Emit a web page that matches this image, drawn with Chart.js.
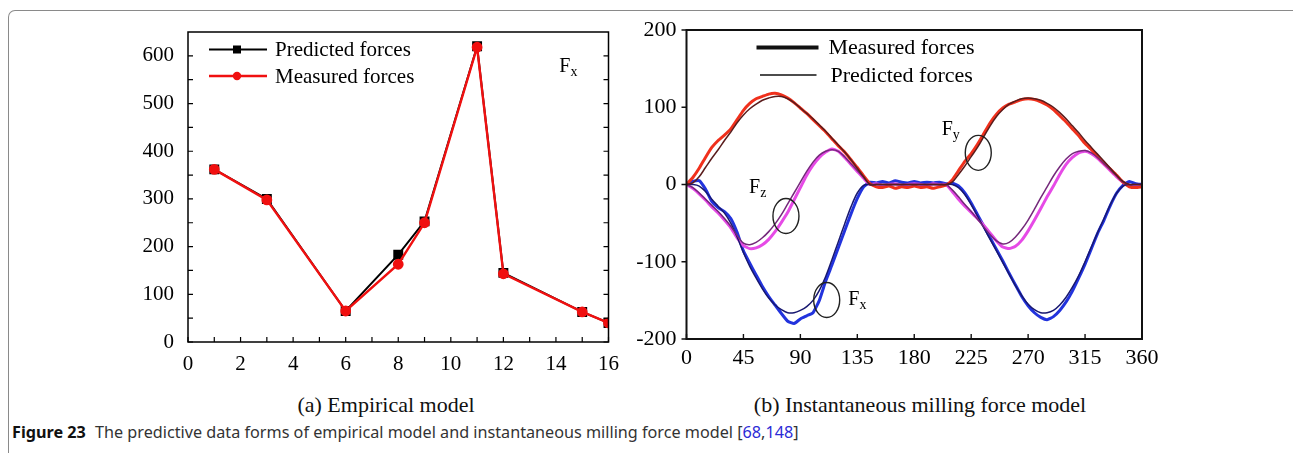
<!DOCTYPE html>
<html>
<head>
<meta charset="utf-8">
<script src="https://cdn.jsdelivr.net/npm/chart.js@4.4.1/dist/chart.umd.min.js"></script>
<style>
  html, body { margin: 0; padding: 0; background: #fff; }
  body { width: 1293px; height: 453px; position: relative; overflow: hidden; font-family: "Liberation Serif", serif; }
  #frame { position: absolute; left: 8px; top: 10px; width: 1292px; height: 480px; box-sizing: border-box;
           border: 1.5px solid #8a8a8a; border-bottom: none; border-radius: 7px 7px 0 0; }
  .box { position: absolute; top: 0; height: 380px; }
  #box1 { left: 130px; width: 499px; }
  #box2 { left: 620px; width: 560px; }
  .sub { position: absolute; top: 394px; font-size: 22px; line-height: 22px; color: #111; white-space: nowrap; transform: translateX(-50%); }
  #cap { position: absolute; left: 12px; top: 424px; font-family: "Noto Sans", sans-serif; font-size: 16.2px; line-height: 17px; color: #333; white-space: nowrap; }
  #cap b { color: #111; margin-right: 5px; }
  #cap span { color: #2b2bd6; }
</style>
</head>
<body>
<div id="frame"></div>
<div class="box" id="box1"><canvas id="empirical"></canvas></div>
<div class="box" id="box2"><canvas id="milling"></canvas></div>
<div class="sub" style="left:386px">(a) Empirical model</div>
<div class="sub" style="left:920px">(b) Instantaneous milling force model</div>
<div id="cap"><b>Figure 23</b> The predictive data forms of empirical model and instantaneous milling force model [<span>68</span>,<span>148</span>]</div>

<script>
// ---- (a) empirical model ----
const testNo = [1, 3, 6, 8, 9, 11, 12, 15, 16];
const predictedFx = [362, 300, 65, 183, 253, 620, 145, 63, 40];
const measuredFx = [362, 298, 65, 163, 250, 618, 143, 63, 40];

// ---- (b) instantaneous milling force model, sampled every 5 deg ----
const angles = [
  0, 5, 10, 15, 20, 25, 30, 35, 40,
  45, 50, 55, 60, 65, 70, 75, 80, 85,
  90, 95, 100, 105, 110, 115, 120, 125, 130,
  135, 140, 145, 150, 155, 160, 165, 170, 175,
  180, 185, 190, 195, 200, 205, 210, 215, 220,
  225, 230, 235, 240, 245, 250, 255, 260, 265,
  270, 275, 280, 285, 290, 295, 300, 305, 310,
  315, 320, 325, 330, 335, 340, 345, 350, 355,
  360
];
const fyMeasured = [
  0, 9, 21, 35, 48, 57, 64, 72, 84,
  96, 105, 111, 114, 117, 118, 116, 112, 106,
  99, 92, 84, 76, 68, 59, 50, 42, 32,
  22, 11, 1, -3, -4, -2, -5, -3, -4,
  -2, -4, -3, -5, -3, -1, 6, 18, 30,
  40, 52, 66, 80, 91, 99, 104, 107, 110,
  111, 110, 107, 103, 97, 89, 81, 72, 63,
  53, 45, 36, 28, 20, 12, 3, -3, -4,
  -3
];
const fyPredicted = [
  0, 2, 10, 22, 34, 45, 57, 68, 80,
  90, 98, 104, 109, 112, 114, 114, 111, 106,
  99, 92, 85, 77, 69, 60, 51, 42, 32,
  21, 10, 0, 0, 0, 0, 0, 0, 0,
  0, 0, 0, 0, 0, 0, 3, 13, 24,
  36, 48, 62, 76, 88, 97, 104, 108, 111,
  112, 111, 109, 105, 100, 93, 85, 76, 67,
  57, 48, 39, 30, 21, 12, 4, 0, 0,
  0
];
const fzMeasured = [
  0, -5, -12, -20, -29, -37, -46, -56, -69,
  -79, -83, -82, -78, -71, -61, -49, -36, -20,
  -4, 12, 25, 35, 42, 46, 43, 35, 26,
  17, 8, 0, 1, -1, 0, 1, -1, 0,
  1, 0, -1, 1, 0, 0, -9, -19, -28,
  -36, -44, -53, -63, -73, -81, -83, -80, -72,
  -60, -46, -31, -16, -2, 13, 26, 35, 41,
  43, 40, 34, 26, 18, 10, 3, -1, -2,
  -1
];
const fzPredicted = [
  0, -4, -11, -19, -27, -35, -44, -54, -66,
  -76, -78, -75, -69, -61, -51, -39, -25, -11,
  3, 17, 29, 38, 43, 45, 43, 36, 27,
  18, 9, 0, 0, 0, 0, 0, 0, 0,
  0, 0, 0, 0, 0, 0, -7, -16, -26,
  -35, -45, -55, -65, -73, -77, -75, -68, -58,
  -46, -32, -17, -3, 11, 23, 33, 40, 43,
  44, 41, 35, 27, 19, 11, 3, 0, 0,
  0
];
const fxMeasured = [
  0, 4, 5, -6, -22, -30, -35, -44, -62,
  -86, -102, -117, -132, -145, -156, -167, -177, -180,
  -174, -170, -166, -150, -125, -104, -82, -60, -38,
  -18, -3, 3, 2, 4, 2, 5, 3, 2,
  4, 2, 3, 2, 3, 1, 2, -2, -11,
  -24, -39, -54, -69, -84, -99, -115, -130, -145,
  -157, -166, -172, -175, -171, -163, -152, -138, -121,
  -103, -83, -63, -46, -27, -11, -1, 4, 1,
  0
];
const fxPredicted = [
  0, 0, -2, -9, -19, -28, -37, -50, -68,
  -88, -106, -121, -135, -147, -156, -162, -166, -166,
  -163, -158, -150, -137, -119, -97, -74, -51, -29,
  -11, -1, 0, 0, 0, 0, 0, 0, 0,
  0, 0, 0, 0, 0, 0, 0, -4, -13,
  -26, -41, -56, -71, -86, -101, -116, -131, -144,
  -155, -162, -166, -166, -163, -156, -146, -133, -118,
  -100, -81, -62, -44, -26, -11, -2, 0, 0,
  0
];

// labels inside plot b, given in data units
const forceTags = [
  { name: "F", sub: "y", x: 201.7, y: 64, ex: 230.6, ey: 41 },
  { name: "F", sub: "z", x: 49.4, y: -11.4, ex: 78.6, ey: -40.8 },
  { name: "F", sub: "x", x: 127.9, y: -156, ex: 110.8, ey: -149.5 }
];

const SERIF = '"Liberation Serif", "Times New Roman", serif';
Chart.defaults.font.family = SERIF;
Chart.defaults.font.size = 21;
Chart.defaults.color = "#000";

function pts(xs, ys) {
  return xs.map((x, i) => ({ x: x, y: ys[i] }));
}

function drawSubText(ctx, name, sub, x, y, size) {
  ctx.font = size + "px " + SERIF;
  ctx.textAlign = "left";
  ctx.textBaseline = "alphabetic";
  ctx.fillText(name, x, y);
  const w = ctx.measureText(name).width;
  ctx.font = Math.round(size * 0.68) + "px " + SERIF;
  ctx.fillText(sub, x + w, y + 4);
}

// frame, inward ticks, legend and Fx tag for chart (a)
const empiricalDecor = {
  id: "empiricalDecor",
  afterDraw(chart) {
    const { ctx, chartArea: a, scales: { x, y } } = chart;
    ctx.save();
    ctx.strokeStyle = "#000";
    ctx.lineWidth = 1.5;
    ctx.strokeRect(a.left, a.top, a.right - a.left, a.bottom - a.top);

    ctx.lineWidth = 1.2;
    ctx.beginPath();
    y.ticks.forEach(t => {
      const py = y.getPixelForValue(t.value);
      if (t.value >= 650) return;
      ctx.moveTo(a.left, py); ctx.lineTo(a.left + 5, py);
      ctx.moveTo(a.right, py); ctx.lineTo(a.right - 5, py);
    });
    x.ticks.forEach(t => {
      const px = x.getPixelForValue(t.value);
      ctx.moveTo(px, a.bottom); ctx.lineTo(px, a.bottom - 5);
    });
    ctx.stroke();

    // legend
    const rows = [chart.data.datasets[1], chart.data.datasets[0]];
    rows.forEach((ds, i) => {
      const ly = a.top + 17.5 + i * 26.5;
      const x0 = a.left + 21, x1 = a.left + 79, xm = a.left + 49;
      ctx.strokeStyle = ds.borderColor;
      ctx.lineWidth = ds.borderWidth;
      ctx.beginPath(); ctx.moveTo(x0, ly); ctx.lineTo(x1, ly); ctx.stroke();
      ctx.fillStyle = ds.pointBackgroundColor;
      if (ds.pointStyle === "rect") {
        ctx.fillRect(xm - 4, ly - 4, 8, 8);
      } else {
        ctx.beginPath(); ctx.arc(xm, ly, 4.2, 0, Math.PI * 2); ctx.fill();
      }
      ctx.fillStyle = "#000";
      ctx.font = "21px " + SERIF;
      ctx.textAlign = "left";
      ctx.textBaseline = "middle";
      ctx.fillText(ds.label, a.left + 87, ly + 1);
    });

    ctx.fillStyle = "#000";
    drawSubText(ctx, "F", "x", x.getPixelForValue(14.13), y.getPixelForValue(566), 20);
    ctx.restore();
  }
};

new Chart(document.getElementById("empirical"), {
  type: "line",
  data: {
    datasets: [
      {
        label: "Measured forces",
        data: pts(testNo, measuredFx),
        borderColor: "#f01010",
        backgroundColor: "#f01010",
        pointBackgroundColor: "#f01010",
        pointBorderColor: "#f01010",
        borderWidth: 2.4,
        pointStyle: "circle",
        pointRadius: 4.2,
        order: 0
      },
      {
        label: "Predicted forces",
        data: pts(testNo, predictedFx),
        borderColor: "#000",
        backgroundColor: "#000",
        pointBackgroundColor: "#000",
        pointBorderColor: "#000",
        borderWidth: 2,
        pointStyle: "rect",
        pointRadius: 5.6,
        order: 1
      }
    ]
  },
  options: {
    responsive: true,
    maintainAspectRatio: false,
    animation: false,
    layout: { padding: { left: 0, right: 11, top: 32, bottom: 0 } },
    plugins: { legend: { display: false }, tooltip: { enabled: false } },
    scales: {
      x: {
        type: "linear", min: 0, max: 16,
        grid: { display: false, drawTicks: false },
        border: { display: false },
        ticks: { stepSize: 1, padding: 10, autoSkip: false, maxRotation: 0, minRotation: 0,
                 callback: v => (v % 2 === 0 ? v : "") },
        afterFit: s => { s.height = 38; }
      },
      y: {
        min: 0, max: 650,
        grid: { display: false, drawTicks: false },
        border: { display: false },
        ticks: { stepSize: 50, padding: 14, autoSkip: false,
                 callback: v => (v % 100 === 0 && v <= 600 ? v : "") },
        afterFit: s => { s.width = 58; }
      }
    }
  },
  plugins: [empiricalDecor]
});

// frame, ticks, legend and ellipses for chart (b)
const millingDecor = {
  id: "millingDecor",
  afterDraw(chart) {
    const { ctx, chartArea: a, scales: { x, y } } = chart;
    ctx.save();
    ctx.strokeStyle = "#111";
    ctx.lineWidth = 2;
    ctx.strokeRect(a.left, a.top, a.right - a.left, a.bottom - a.top);

    ctx.lineWidth = 1.4;
    ctx.beginPath();
    y.ticks.forEach(t => {
      const py = y.getPixelForValue(t.value);
      ctx.moveTo(a.left, py); ctx.lineTo(a.left - 5, py);
    });
    x.ticks.forEach(t => {
      const px = x.getPixelForValue(t.value);
      ctx.moveTo(px, a.bottom); ctx.lineTo(px, a.bottom - 5);
    });
    ctx.stroke();

    // legend
    ctx.strokeStyle = "#111";
    ctx.lineWidth = 4;
    ctx.beginPath(); ctx.moveTo(a.left + 70, a.top + 17.5); ctx.lineTo(a.left + 132, a.top + 17.5); ctx.stroke();
    ctx.lineWidth = 1.5;
    ctx.beginPath(); ctx.moveTo(a.left + 73.5, a.top + 45); ctx.lineTo(a.left + 130, a.top + 45); ctx.stroke();
    ctx.fillStyle = "#000";
    ctx.font = "22px " + SERIF;
    ctx.textAlign = "left";
    ctx.textBaseline = "middle";
    ctx.fillText("Measured forces", a.left + 142, a.top + 18);
    ctx.fillText("Predicted forces", a.left + 144, a.top + 46);

    // ellipses and force names
    ctx.strokeStyle = "#222";
    ctx.lineWidth = 1.4;
    forceTags.forEach(tag => {
      ctx.beginPath();
      ctx.ellipse(x.getPixelForValue(tag.ex), y.getPixelForValue(tag.ey), 13, 17.5, 0, 0, Math.PI * 2);
      ctx.stroke();
      drawSubText(ctx, tag.name, tag.sub, x.getPixelForValue(tag.x), y.getPixelForValue(tag.y), 20);
    });
    ctx.restore();
  }
};

function forceLine(label, values, color, width, tension, order) {
  return {
    label: label,
    data: pts(angles, values),
    borderColor: color,
    borderWidth: width,
    pointRadius: 0,
    tension: tension,
    fill: false,
    order: order
  };
}

new Chart(document.getElementById("milling"), {
  type: "line",
  data: {
    datasets: [
      forceLine("Fy measured", fyMeasured, "#f0301c", 3, 0.15, 1),
      forceLine("Fz measured", fzMeasured, "#e64ae6", 3, 0.15, 1),
      forceLine("Fx measured", fxMeasured, "#2233dd", 3, 0.15, 1),
      forceLine("Fy predicted", fyPredicted, "#5a1c1c", 1.5, 0.35, 0),
      forceLine("Fz predicted", fzPredicted, "#74287a", 1.5, 0.35, 0),
      forceLine("Fx predicted", fxPredicted, "#181870", 1.5, 0.35, 0)
    ]
  },
  options: {
    responsive: true,
    maintainAspectRatio: false,
    animation: false,
    layout: { padding: { left: 0, right: 38, top: 30, bottom: 0 } },
    plugins: { legend: { display: false }, tooltip: { enabled: false } },
    scales: {
      x: {
        type: "linear", min: 0, max: 360,
        grid: { display: false, drawTicks: false },
        border: { display: false },
        ticks: { stepSize: 45, padding: 6, maxRotation: 0, font: { size: 22 } },
        afterFit: s => { s.height = 41; }
      },
      y: {
        min: -200, max: 200,
        grid: { display: false, drawTicks: false },
        border: { display: false },
        ticks: { stepSize: 100, padding: 10, font: { size: 22 } },
        afterFit: s => { s.width = 66.5; }
      }
    }
  },
  plugins: [millingDecor]
});
</script>
</body>
</html>
